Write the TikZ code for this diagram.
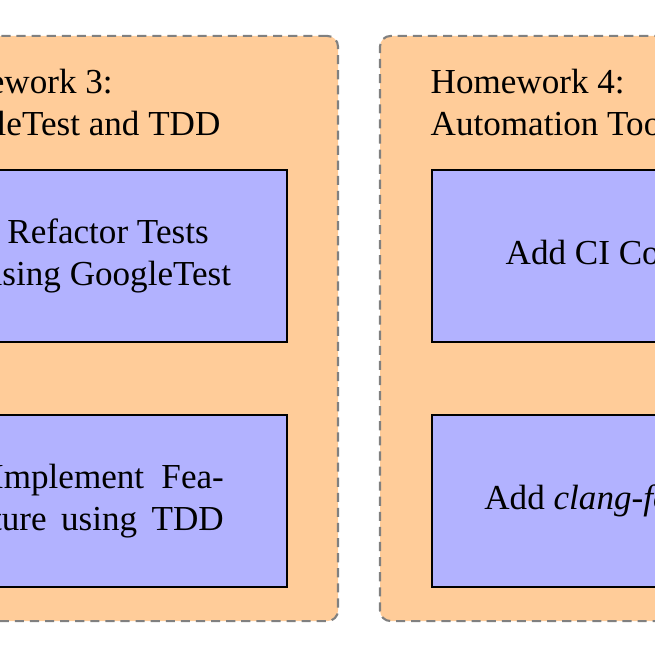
\documentclass[tikz,border=0pt]{standalone}
\usepackage{fontspec}
\setmainfont{Liberation Serif}
\begin{document}
\tikzset{
  hwbox/.style={draw=gray, dash pattern=on 2.6pt off 1.7pt, line width=0.6pt,
    fill=orange!40, rounded corners=3pt, minimum width=131.05pt,
    minimum height=166.7pt, inner sep=0pt},
  taskbox/.style={draw=black, thick, fill=blue!30, minimum width=102pt,
    minimum height=49pt, inner sep=0pt, font=\fontsize{10}{12}\selectfont},
  hwtitle/.style={anchor=north west, inner sep=0pt, align=left,
    font=\fontsize{10}{12}\selectfont}
}
\begin{tikzpicture}[x=0.2849pt,y=-0.2849pt]
\useasboundingbox (0,0) rectangle (655,655);
\clip (0,0) rectangle (655,655);
% containers
\node[hwbox] (hw3) at (108,328.5) {};
\node[hwbox] (hw4) at (610,328.5) {};
% titles
\node[hwtitle] (hw3title) at (-82,68) {Homework 3:\\GoogleTest and TDD};
\node[hwtitle] (hw4title) at (430,68) {Homework 4:\\Automation Tools};
% tasks
\node[taskbox, align=center] (refactor) at (108,256) {Refactor Tests\\using GoogleTest};
\node[taskbox, text width=66pt, align=justify] (tdd) at (108,501)
  {Implement Fea-\linebreak ture using TDD\parfillskip=0pt\relax\par};
\node[taskbox] (ci) at (611,256) {Add CI Config};
\node[taskbox] (clang) at (611,501) {Add \textit{clang-format}};
\end{tikzpicture}
\end{document}
